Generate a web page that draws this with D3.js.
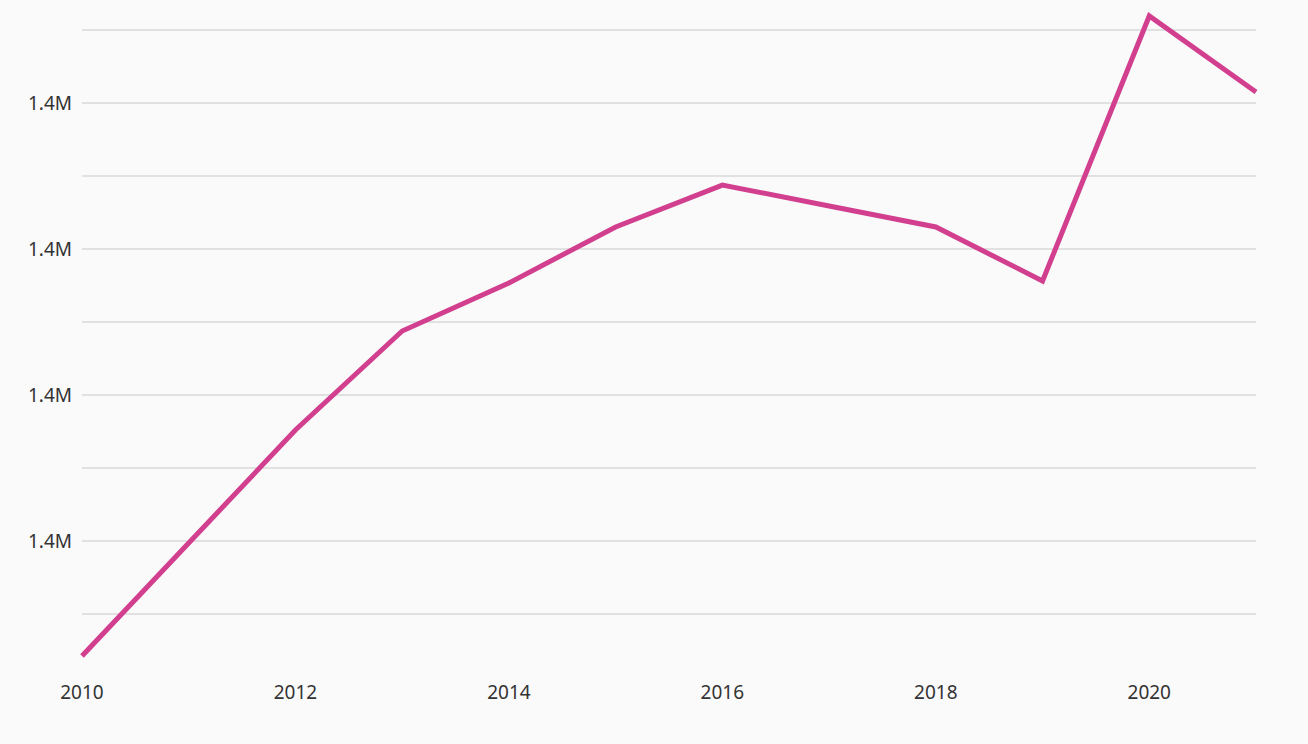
<!DOCTYPE html>
<html><head><meta charset="utf-8">
<script src="https://cdn.jsdelivr.net/npm/d3@7"></script>
<style>html,body{margin:0;padding:0;background:#fafafa;}svg{display:block;}</style>
</head><body><svg id="c" width="1308" height="744"></svg>
<script>
const years = [2010,2011,2012,2013,2014,2015,2016,2017,2018,2019,2020,2021];
const values = [1398212,1398986,1399760,1400438,1400767,1401151,1401438,1401295,1401151,1400781,1402596,1402075];
const xTickValues = [2010,2012,2014,2016,2018,2020];
const gridValues = [1398500,1399000,1399500,1400000,1400500,1401000,1401500,1402000,1402500];
const labelValues = [1399000,1400000,1401000,1402000];

const svg = d3.select("#c");
svg.append("rect").attr("width",1308).attr("height",744).attr("fill","#fafafa");
const x = d3.scaleLinear().domain(d3.extent(years)).range([82,1256]);
const y = d3.scaleLinear().domain(d3.extent(values)).range([656,16]);
const fmt = d3.format(".2s");

svg.append("g").selectAll("line").data(gridValues).join("line")
  .attr("x1",82).attr("x2",1256)
  .attr("y1",d=>Math.round(y(d))).attr("y2",d=>Math.round(y(d)))
  .attr("stroke","#d9d9d9").attr("stroke-width",1.6);

svg.append("g").selectAll("text").data(labelValues).join("text")
  .attr("x",72).attr("y",d=>y(d)).attr("dy","0.36em")
  .attr("text-anchor","end").attr("fill","#333")
  .style("font-family","'Noto Sans', sans-serif").style("font-size","19px")
  .text(d=>fmt(d));

svg.append("g").selectAll("text").data(xTickValues).join("text")
  .attr("x",d=>x(d)).attr("y",699)
  .attr("text-anchor","middle").attr("fill","#333")
  .style("font-family","'Noto Sans', sans-serif").style("font-size","19px")
  .text(d=>d);

svg.append("path").datum(years.map((yr,i)=>[yr,values[i]]))
  .attr("fill","none").attr("stroke","#d13f8e").attr("stroke-width",5)
  .attr("stroke-linejoin","miter")
  .attr("d",d3.line().x(d=>x(d[0])).y(d=>y(d[1])));
</script></body></html>
